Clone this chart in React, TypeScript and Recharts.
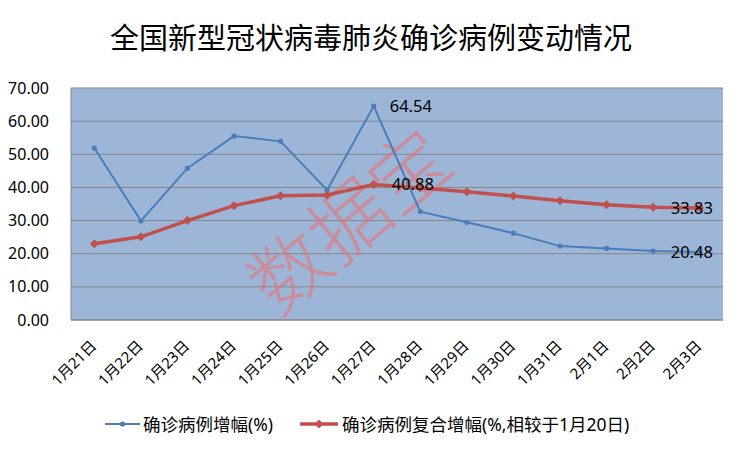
import { LineChart, Line, XAxis, YAxis, CartesianGrid, Legend, LabelList } from 'recharts'

const dates = [
  '1月21日', '1月22日', '1月23日', '1月24日', '1月25日', '1月26日', '1月27日',
  '1月28日', '1月29日', '1月30日', '1月31日', '2月1日', '2月2日', '2月3日',
]
// 确诊病例增幅(%)
const dailyGrowth = [51.9, 29.9, 45.8, 55.5, 53.9, 39.2, 64.54, 32.7, 29.5, 26.2, 22.3, 21.6, 20.8, 20.48]
// 确诊病例复合增幅(%,相较于1月20日)
const compoundGrowth = [23.0, 25.1, 30.0, 34.5, 37.5, 37.7, 40.88, 39.8, 38.7, 37.4, 36.0, 34.8, 34.0, 33.83]
const yTicks = [0, 10, 20, 30, 40, 50, 60, 70]

const BLUE = '#4A7EBB'
const RED = '#C0504D'
const FONT = '"Noto Sans", "Noto Sans CJK SC", sans-serif'

const chartData = dates.map((date, i) => ({
  date,
  growth: dailyGrowth[i],
  compound: compoundGrowth[i],
}))

// which points carry a value label, and where it sits
const peakIndex = dates.indexOf('1月27日')
const lastIndex = dates.length - 1

function DateTick({ x, y, payload }: any) {
  const ax = x + 3
  const ay = y + 27
  return (
    <text x={ax} y={ay} textAnchor="end" fontSize={15} fill="#000" transform={`rotate(-45 ${ax} ${ay})`}>
      {payload.value}
    </text>
  )
}

function ValueTick({ x, y, payload }: any) {
  return (
    <text x={x} y={y} dy="0.35em" textAnchor="end" fontSize={16} fill="#000">
      {payload.value.toFixed(2)}
    </text>
  )
}

function BlueDot({ cx, cy }: any) {
  return <circle cx={cx} cy={cy} r={2.6} fill={BLUE} />
}

function RedDiamond({ cx, cy }: any) {
  const s = 4.5
  return <polygon points={`${cx},${cy - s} ${cx + s},${cy} ${cx},${cy + s} ${cx - s},${cy}`} fill={RED} />
}

const pointLabel = (shift: number) => (props: any) => {
  const { x, y, value, index } = props
  if (index !== peakIndex && index !== lastIndex) return null
  const dx = index === lastIndex ? -29 : shift
  return (
    <text x={x + dx} y={y} dy="0.35em" fontSize={16.5} fill="#000" textAnchor="start">
      {Number(value).toFixed(2)}
    </text>
  )
}

function ChartLegend() {
  return (
    <div style={{ height: 40, position: 'relative', fontSize: 17.5, fontFamily: FONT, color: '#000' }}>
      <div style={{ position: 'absolute', left: 105, top: 2, display: 'flex', alignItems: 'center' }}>
        <svg width={35} height={20}>
          <line x1={0} y1={10} x2={35} y2={10} stroke={BLUE} strokeWidth={2} />
          <circle cx={17.5} cy={10} r={2.6} fill={BLUE} />
        </svg>
        <span style={{ marginLeft: 3 }}>确诊病例增幅(%)</span>
      </div>
      <div style={{ position: 'absolute', left: 300, top: 2, display: 'flex', alignItems: 'center' }}>
        <svg width={38} height={20}>
          <line x1={0} y1={10} x2={38} y2={10} stroke={RED} strokeWidth={3.5} />
          <polygon points="19,5.5 23.5,10 19,14.5 14.5,10" fill={RED} />
        </svg>
        <span style={{ marginLeft: 4 }}>确诊病例复合增幅(%,相较于1月20日)</span>
      </div>
    </div>
  )
}

export default function App() {
  return (
    <div style={{ position: 'absolute', left: 0, top: 0, width: 743, height: 449, background: '#fff', fontFamily: FONT }}>
      <LineChart width={743} height={449} data={chartData} margin={{ top: 88, right: 20, bottom: 0, left: 0 }}>
        <text x={371} y={49} textAnchor="middle" fontSize={29} fill="#000" fontFamily={FONT}>
          全国新型冠状病毒肺炎确诊病例变动情况
        </text>
        <CartesianGrid vertical={false} stroke="#878787" strokeWidth={1} fill="#9DB6D8" fillOpacity={1} />
        <XAxis
          dataKey="date"
          interval={0}
          padding={{ left: 23.3, right: 23.3 }}
          tickLine={false}
          tickSize={0}
          tickMargin={0}
          height={89}
          axisLine={{ stroke: '#878787' }}
          tick={<DateTick />}
        />
        <YAxis
          width={71}
          domain={[0, 70]}
          ticks={yTicks}
          tickLine={false}
          tickSize={0}
          tickMargin={22}
          axisLine={{ stroke: '#878787' }}
          tick={<ValueTick />}
        />
        <g transform="translate(350 222) rotate(-40)">
          <text x={0} y={0} dy="0.35em" textAnchor="middle" fontSize={78} fill="rgb(230,115,119)" fillOpacity={0.6} fontFamily='"Noto Sans CJK SC", sans-serif' fontWeight={300}>
            数据宝
          </text>
        </g>
        <Line
          type="linear"
          dataKey="growth"
          name="确诊病例增幅(%)"
          stroke={BLUE}
          strokeWidth={2}
          dot={<BlueDot />}
          activeDot={false}
          isAnimationActive={false}
        >
          <LabelList dataKey="growth" content={pointLabel(16)} />
        </Line>
        <Line
          type="linear"
          dataKey="compound"
          name="确诊病例复合增幅(%,相较于1月20日)"
          stroke={RED}
          strokeWidth={3.5}
          dot={<RedDiamond />}
          activeDot={false}
          isAnimationActive={false}
        >
          <LabelList dataKey="compound" content={pointLabel(18)} />
        </Line>
        <Legend verticalAlign="bottom" content={<ChartLegend />} wrapperStyle={{ left: 0, width: 743 }} />
      </LineChart>
    </div>
  )
}
